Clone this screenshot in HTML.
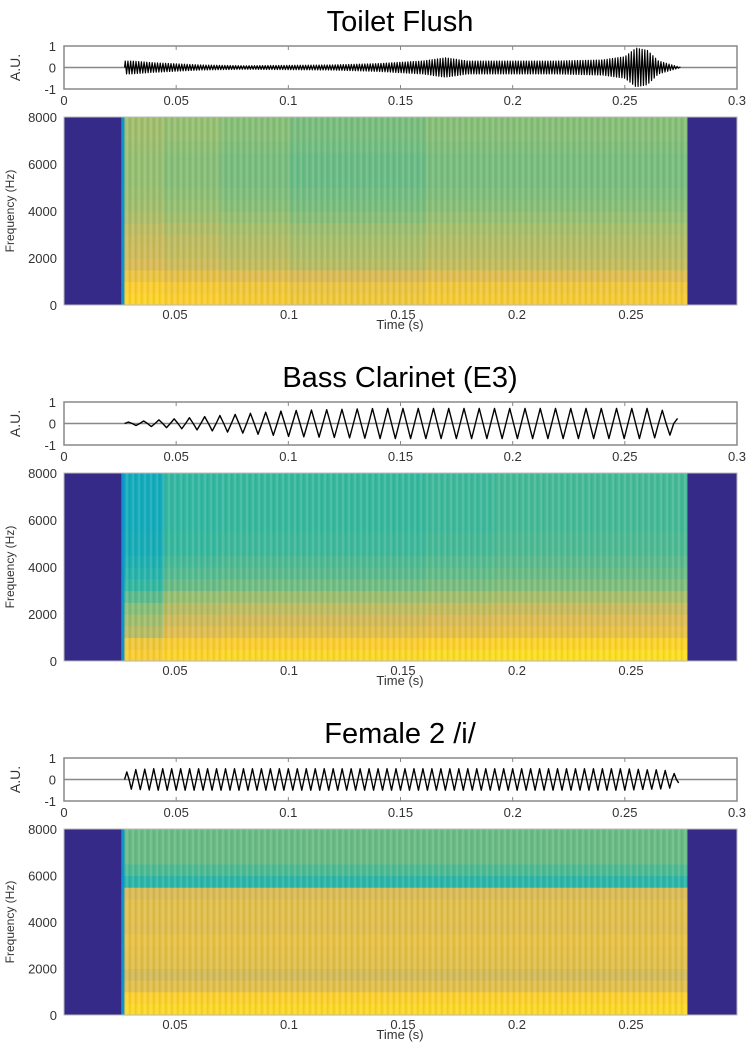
<!DOCTYPE html>
<html><head><meta charset="utf-8">
<style>
html,body{margin:0;padding:0;background:#fff;}
svg{display:block;font-family:"Liberation Sans",sans-serif;}
</style></head>
<body>
<svg id="fig" width="750" height="1052" viewBox="0 0 750 1052" xmlns="http://www.w3.org/2000/svg">
<defs>
<pattern id="stripes" width="6" height="40" patternUnits="userSpaceOnUse">
<rect x="0" y="0" width="2" height="40" fill="#ffffff" opacity="0.10"/>
<rect x="3" y="0" width="1.5" height="40" fill="#000000" opacity="0.05"/>
</pattern>
</defs>
</svg>
<script>
// ---- data ----
const titles = ["Toilet Flush", "Bass Clarinet (E3)", "Female 2 /i/"];
const waveTicks = [0, 0.05, 0.1, 0.15, 0.2, 0.25, 0.3];
const waveTickLabels = ["0", "0.05", "0.1", "0.15", "0.2", "0.25", "0.3"];
const specTicks = [0.05, 0.1, 0.15, 0.2, 0.25];
const specTickLabels = ["0.05", "0.1", "0.15", "0.2", "0.25"];
const freqTicks = [0, 2000, 4000, 6000, 8000];
const ampTicks = [1, 0, -1];
const signalStart = 0.0265, signalEnd = 0.2745;
// envelope times & amplitudes per panel
const envTimes = [0.027, 0.03, 0.04, 0.06, 0.08, 0.1, 0.12, 0.14, 0.16, 0.17, 0.18, 0.2, 0.22, 0.24, 0.25, 0.255, 0.26, 0.265, 0.27, 0.275];
const envToilet = [0.3, 0.3, 0.22, 0.12, 0.08, 0.1, 0.12, 0.18, 0.3, 0.45, 0.3, 0.3, 0.3, 0.35, 0.5, 0.9, 0.8, 0.3, 0.15, 0.0];
const envClarinet = [0.05, 0.08, 0.15, 0.3, 0.45, 0.6, 0.65, 0.7, 0.7, 0.7, 0.7, 0.7, 0.7, 0.7, 0.7, 0.7, 0.7, 0.65, 0.55, 0.1];
const envFemale = [0.3, 0.45, 0.5, 0.5, 0.5, 0.5, 0.5, 0.5, 0.5, 0.5, 0.5, 0.5, 0.5, 0.5, 0.5, 0.48, 0.45, 0.45, 0.4, 0.1];
const periods = [0.0012, 0.0068, 0.0040];
// spectrogram: freq band centers (Hz) and intensity profiles (0..1 parula scale)
const bandFreqs = [250, 750, 1250, 1750, 2250, 2750, 3250, 3750, 4250, 4750, 5250, 5750, 6250, 6750, 7250, 7750];
const profToilet = [0.85, 0.83, 0.77, 0.71, 0.69, 0.68, 0.66, 0.63, 0.61, 0.6, 0.59, 0.59, 0.59, 0.6, 0.61, 0.61];
const profClarinet = [0.9, 0.87, 0.78, 0.74, 0.7, 0.64, 0.58, 0.55, 0.53, 0.51, 0.51, 0.5, 0.5, 0.5, 0.5, 0.5];
const profFemale = [0.9, 0.88, 0.78, 0.74, 0.78, 0.79, 0.8, 0.77, 0.78, 0.78, 0.75, 0.47, 0.53, 0.57, 0.57, 0.57];
// time segments and per-segment gains
const segTimes = [0.0265, 0.045, 0.07, 0.1, 0.13, 0.16, 0.19, 0.22, 0.25, 0.2745];
const gainToilet = [0.04, 0.02, 0.0, -0.02, -0.02, 0.0, 0.0, 0.0, 0.0];
const gainClarinet = [-0.04, -0.01, 0.0, 0.0, 0.0, 0.01, 0.02, 0.02, 0.02];
const gainFemale = [0.0, 0.0, 0.0, 0.0, 0.0, 0.0, 0.0, 0.0, 0.0];
// clarinet early onset: bands above 1200 Hz are weaker in first segment
const onsetBandCut = [0, 0, 1, 1, 1, 1, 1, 1, 1, 1, 1, 1, 1, 1, 1, 1];

const profs = [profToilet, profClarinet, profFemale];
const gains = [gainToilet, gainClarinet, gainFemale];
const envs = [envToilet, envClarinet, envFemale];
const offsets = [0, 356, 712];

const NS = "http://www.w3.org/2000/svg";
const svg = document.getElementById("fig");
function mk(tag, attrs, parent) {
  const e = document.createElementNS(NS, tag);
  for (const k in attrs) e.setAttribute(k, attrs[k]);
  (parent || svg).appendChild(e);
  return e;
}
const parula = [[53,42,135],[3,99,225],[20,133,212],[6,167,198],[56,185,158],[146,191,115],[217,186,86],[252,206,46],[249,251,14]];
function color(v) {
  v = Math.max(0, Math.min(1, v));
  const p = v * (parula.length - 1), i = Math.min(parula.length - 2, Math.floor(p)), f = p - i;
  const c = parula[i].map((a, k) => Math.round(a + (parula[i + 1][k] - a) * f));
  return "rgb(" + c.join(",") + ")";
}
function interp(xs, ys, x) {
  if (x <= xs[0]) return ys[0];
  for (let i = 1; i < xs.length; i++) if (x <= xs[i]) { const f = (x - xs[i - 1]) / (xs[i] - xs[i - 1]); return ys[i - 1] + f * (ys[i] - ys[i - 1]); }
  return ys[ys.length - 1];
}
const L = 64, R = 737;
const xw = t => L + t / 0.3 * (R - L);
const xs = t => 175 + (t - 0.05) * 2280;

titles.forEach((title, p) => {
  const o = offsets[p];
  const g = mk("g", {});
  
  
  const wT = 46 + o, wB = 89 + o;
  const sT = 117 + o, sB = 305 + o - (p === 2 ? 2 : 0);
  const yw = a => (wT + wB) / 2 - a * (wB - wT) / 2;
  const yf = f => sB - f / 8000 * (sB - sT);

  const tt = mk("text", {x: 400, y: 31 + o, "text-anchor": "middle", "font-size": 29, fill: "#000"}, g);
  tt.textContent = title;
  
  

  const wbox = mk("rect", {x: L, y: wT, width: R - L, height: wB - wT, fill: "#fff", stroke: "#888", "stroke-width": 1.5}, g);
  
  
  mk("line", {x1: L, x2: R, y1: yw(0), y2: yw(0), stroke: "#888", "stroke-width": 1.5}, g);
  waveTicks.forEach((t, i) => {
    mk("line", {x1: xw(t), x2: xw(t), y1: wT, y2: wT + 4, stroke: "#888"}, g);
    mk("line", {x1: xw(t), x2: xw(t), y1: wB, y2: wB - 4, stroke: "#888"}, g);
    const lb = mk("text", {x: xw(t), y: wB + 16, "text-anchor": "middle", "font-size": 13, fill: "#333"}, g);
    lb.textContent = waveTickLabels[i];
    
    
  });
  ampTicks.forEach(a => {
    const lb = mk("text", {x: L - 8, y: yw(a) + 5, "text-anchor": "end", "font-size": 13, fill: "#333"}, g);
    lb.textContent = String(a);
    
    
  });
  const au = mk("text", {x: 0, y: 0, "text-anchor": "middle", "font-size": 14, fill: "#333", transform: "translate(20," + ((wT + wB) / 2) + ") rotate(-90)"}, g);
  au.textContent = "A.U.";
  
  

  const env = envs[p], per = periods[p];
  let pts = [];
  const step = per / 2;
  let k = 0;
  for (let t = envTimes[0]; t <= envTimes[envTimes.length - 1]; t += step / 2, k++) {
    const a = interp(envTimes, env, t);
    const ph = k % 4;
    const v = ph === 1 ? a : ph === 3 ? -a : 0;
    pts.push(xw(t).toFixed(2) + "," + yw(v).toFixed(2));
  }
  const tr = mk("polyline", {points: pts.join(" "), fill: "none", stroke: "#000", "stroke-width": p === 0 ? 1.2 : 1.4, "stroke-linejoin": "round"}, g);
  
  

  const bg = mk("rect", {x: L, y: sT, width: R - L, height: sB - sT, fill: color(0)}, g);
  
  
  const prof = profs[p], gain = gains[p];
  for (let s = 0; s < segTimes.length - 1; s++) {
    for (let b = 0; b < bandFreqs.length; b++) {
      let v = prof[b] + gain[s];
      if (p === 1 && s === 0 && onsetBandCut[b]) v -= 0.05;
      const x0 = xs(segTimes[s]), x1 = xs(segTimes[s + 1]);
      const y0 = yf(bandFreqs[b] + 250), y1 = yf(bandFreqs[b] - 250);
      const c = mk("rect", {x: x0.toFixed(2), y: y0.toFixed(2), width: (x1 - x0 + 0.6).toFixed(2), height: (y1 - y0 + 0.6).toFixed(2), fill: color(v)}, g);
      
      
    }
  }
  mk("rect", {x: xs(signalStart), y: sT, width: xs(signalEnd) - xs(signalStart), height: sB - sT, fill: "url(#stripes)"}, g);
  mk("rect", {x: xs(signalStart), y: sT, width: 3, height: sB - sT, fill: color(0.3)}, g);
  const sbox = mk("rect", {x: L, y: sT, width: R - L, height: sB - sT, fill: "none", stroke: "#bbb", "stroke-width": 1}, g);
  
  
  specTicks.forEach((t, i) => {
    const lb = mk("text", {x: xs(t), y: sB + 14, "text-anchor": "middle", "font-size": 13, fill: "#333"}, g);
    lb.textContent = specTickLabels[i];
    
    
  });
  freqTicks.forEach(f => {
    const lb = mk("text", {x: L - 7, y: yf(f) + 5, "text-anchor": "end", "font-size": 13, fill: "#333"}, g);
    lb.textContent = String(f);
    
    
  });
  const xt = mk("text", {x: 400, y: sB + 24, "text-anchor": "middle", "font-size": 13, fill: "#333"}, g);
  xt.textContent = "Time (s)";
  
  
  const yt = mk("text", {x: 0, y: 0, "text-anchor": "middle", "font-size": 12, fill: "#333", transform: "translate(14," + ((sT + sB) / 2) + ") rotate(-90)"}, g);
  yt.textContent = "Frequency (Hz)";
  
  
});
</script>
</body></html>
